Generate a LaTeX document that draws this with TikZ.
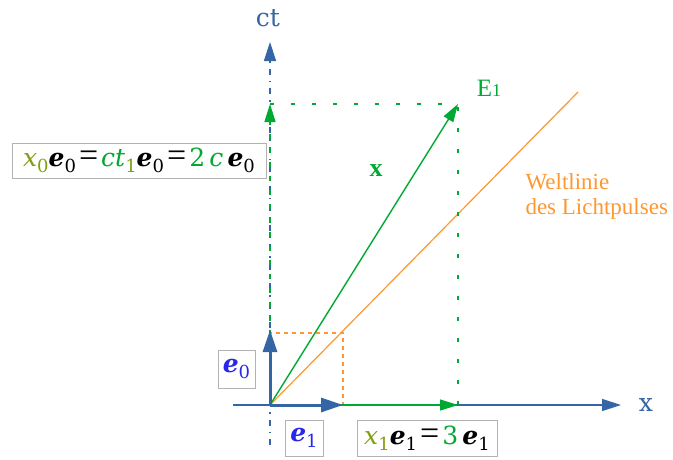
\documentclass[tikz,border=0pt]{standalone}
\usepackage{fontspec}
\setmainfont{Liberation Serif}
\newfontfamily\formulafont{DejaVu Serif}
\usetikzlibrary{arrows.meta}
\definecolor{axis_blue}{RGB}{52,101,164}
\definecolor{vec_green}{RGB}{0,169,51}
\definecolor{olive_green}{RGB}{128,160,20}
\definecolor{light_orange}{RGB}{255,151,47}
\definecolor{e_blue}{RGB}{40,40,235}
\definecolor{box_gray}{RGB}{179,179,179}
\newcommand{\lowidx}[1]{\raisebox{-6pt}{\fontsize{18}{18}\selectfont #1}}
\newcommand{\evec}[1]{\textbf{\textit{e}}\lowidx{#1}}
\newcommand{\eqsign}{\hspace{3pt}{\rmfamily\fontsize{34}{34}\selectfont=}\hspace{3pt}}
\tikzset{
  axis_line/.style = {axis_blue, line width=1.4pt,
    -{Triangle[length=19pt,width=12pt]}},
  base_vec/.style = {axis_blue, line width=3pt,
    -{Triangle[length=22pt,width=14pt]}},
  green_vec/.style = {vec_green, line width=1.4pt,
    -{Triangle[length=18pt,width=11pt]}},
  help_line/.style = {vec_green, line width=1.5pt, dash pattern=on 4pt off 17pt},
  label_box/.style = {draw=box_gray, line width=1pt, fill=white,
    inner sep=3pt, font=\formulafont\fontsize{25}{28}\selectfont},
  axis_label/.style = {axis_blue, font=\formulafont\fontsize{25}{28}\selectfont}
}
\begin{document}
\begin{tikzpicture}[x=1pt, y=-1pt]
  \useasboundingbox (0,0) rectangle (673,459);
  % Punkte
  \coordinate (O) at (270,405);
  \coordinate (x_start) at (233,405);
  \coordinate (x_end) at (621,405);
  \coordinate (ct_start) at (270,445);
  \coordinate (ct_end) at (270,42);
  \coordinate (e1_tip) at (343,405);
  \coordinate (e0_tip) at (270,330);
  \coordinate (e_corner) at (343,333);
  \coordinate (E1) at (458,104);
  \coordinate (x1_tip) at (458,405);
  \coordinate (x0_tip) at (270,104);
  \coordinate (light_end) at (578,92);
  % Achsen
  \draw [axis_line] (x_start) -- (x_end);
  \draw [axis_line, dash pattern=on 6pt off 6pt on 1.5pt off 6pt] (ct_start) -- (ct_end);
  % Lichtpuls
  \draw [light_orange, line width=1.2pt] (O) -- (light_end);
  \draw [light_orange, line width=1.2pt, dash pattern=on 4pt off 4pt]
    (O) -| (e_corner) -| (e0_tip);
  % Hilfslinien
  \draw [help_line] (x1_tip) -- (E1);
  \draw [help_line] (x0_tip) -- (E1);
  % Vektoren
  \draw [green_vec] (O) -- (x1_tip);
  \draw [green_vec, dash pattern=on 5pt off 9pt] (O) -- (x0_tip);
  \draw [green_vec] (O) -- (E1);
  \draw [base_vec] (O) -- (e1_tip);
  \draw [base_vec] (O) -- (e0_tip);
  % Beschriftungen
  \node [axis_label] (ct_label) at (268,18) {ct};
  \node [axis_label] (x_label) at (646,405) {x};
  \node [vec_green, font=\fontsize{25}{28}\selectfont] (E1_label) at (489,88)
    {E{\fontsize{18}{20}\selectfont 1}};
  \node [vec_green, font=\fontsize{26}{28}\selectfont\bfseries] (x_vec_label)
    at (376,171) {x};
  \node [light_orange, align=left, anchor=west, font=\fontsize{23}{25}\selectfont]
    (light_label) at (522,196) {Weltlinie\\des Lichtpulses};
  \node [label_box, minimum width=254pt, minimum height=35pt] (x0_box) at (139,160.5)
    {{\color{olive_green}\textit{x}\lowidx{0}}\evec{0}\eqsign{\color{vec_green}\textit{ct}}{\color{olive_green}\lowidx{1}}\evec{0}\eqsign{\color{vec_green}2\,\textit{c}}\,\evec{0}};
  \node [label_box, minimum width=37pt, minimum height=38pt, text=e_blue] (e0_box)
    at (236.5,369) {\evec{0}};
  \node [label_box, minimum width=38pt, minimum height=36pt, text=e_blue] (e1_box)
    at (304,438) {\evec{1}};
  \node [label_box, minimum width=140pt, minimum height=36pt] (x1_box) at (427,438)
    {{\color{olive_green}\textit{x}\lowidx{1}}\evec{1}\eqsign{\color{vec_green}3}\,\evec{1}};
\end{tikzpicture}
\end{document}
